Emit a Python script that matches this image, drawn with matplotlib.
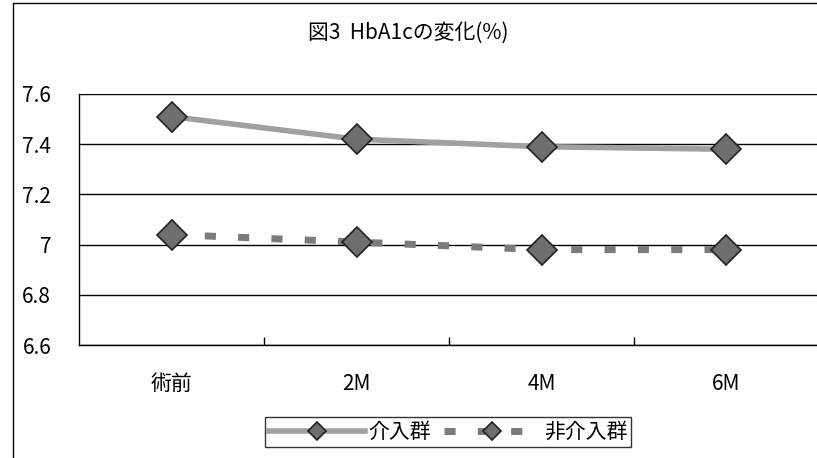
import matplotlib
matplotlib.use("Agg")
import matplotlib.pyplot as plt
from matplotlib.patches import Rectangle

plt.rcParams['font.family'] = ['Noto Sans CJK JP', 'DejaVu Sans']

categories = ["術前", "2M", "4M", "6M"]
intervention = [7.51, 7.42, 7.39, 7.38]
control = [7.04, 7.01, 6.98, 6.98]
y_ticks = [6.6, 6.8, 7.0, 7.2, 7.4, 7.6]
y_labels = ["6.6", "6.8", "7", "7.2", "7.4", "7.6"]

fig = plt.figure(figsize=(8.17, 4.58), dpi=100)
ax = fig.add_axes([79 / 817, 1 - 345 / 458, 740 / 817, 251 / 458])

# outer chart frame
fig.patches.append(Rectangle((13 / 817, -0.01), 1.0, 1 - 3 / 458 + 0.01,
                             transform=fig.transFigure, fill=False,
                             edgecolor="black", linewidth=1.0))

x = list(range(len(categories)))
ax.plot(x, intervention, color="#a0a0a0", linewidth=4, marker="D",
        markersize=15, markerfacecolor="#6e6e6e", markeredgecolor="#222222",
        markeredgewidth=1.2, label="介入群", zorder=3)
ax.plot(x, control, color="#7a7a7a", linewidth=5, linestyle=(0, (1.6, 3.2)),
        marker="D", markersize=15, markerfacecolor="#6e6e6e",
        markeredgecolor="#222222", markeredgewidth=1.2, label="非介入群",
        zorder=3)

ax.set_xlim(-0.5, len(categories) - 0.5)
ax.set_ylim(6.6, 7.6)
ax.set_yticks(y_ticks)
ax.set_yticklabels(y_labels, fontsize=15)
ax.set_xticks(x)
ax.set_xticklabels(categories, fontsize=15)
ax.set_xticks([0.5, 1.5, 2.5], minor=True)
ax.tick_params(axis="x", which="major", length=0, pad=20)
ax.tick_params(axis="x", which="minor", direction="in", length=6, width=1)
ax.tick_params(axis="y", length=0, pad=20)
ax.grid(axis="y", color="black", linewidth=1.0)
ax.set_axisbelow(True)
for side in ["top", "right"]:
    ax.spines[side].set_visible(False)
for side in ["left", "bottom"]:
    ax.spines[side].set_linewidth(1.0)

fig.text(0.5, 1 - 33 / 458, "図3  HbA1cの変化(%)", ha="center", va="center",
         fontsize=15)

leg = fig.legend(loc="center", bbox_to_anchor=(448 / 817, 1 - 432 / 458),
                 ncol=2, frameon=True, fancybox=False, fontsize=15,
                 handlelength=4.6, columnspacing=0.6, handletextpad=0.2,
                 borderpad=0.2, borderaxespad=0)
leg.get_frame().set_edgecolor("black")
leg.get_frame().set_linewidth(1.0)
for h in leg.legend_handles:
    h.set_markersize(9)

fig.savefig("out.png", dpi=100)
